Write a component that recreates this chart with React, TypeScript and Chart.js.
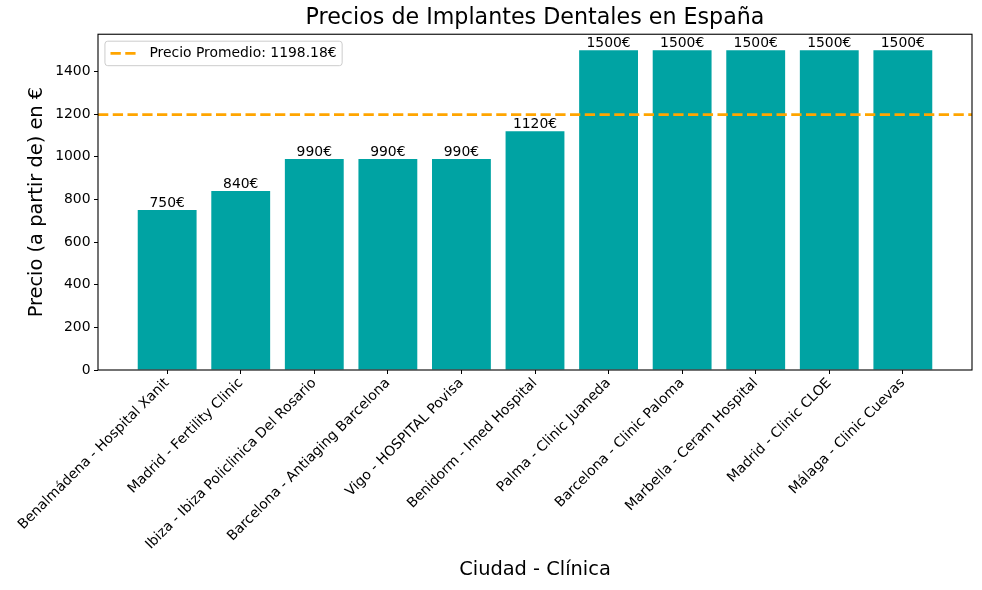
import React, { useEffect, useRef } from "react";
import { Chart, registerables } from "chart.js";

Chart.register(...registerables);

const categories: string[] = [
  "Benalmádena - Hospital Xanit",
  "Madrid - Fertility Clinic",
  "Ibiza - Ibiza Policlinica Del Rosario",
  "Barcelona - Antiaging Barcelona",
  "Vigo - HOSPITAL Povisa",
  "Benidorm - Imed Hospital",
  "Palma - Clinic Juaneda",
  "Barcelona - Clinic Paloma",
  "Marbella - Ceram Hospital",
  "Madrid - Clinic CLOE",
  "Málaga - Clinic Cuevas",
];
const prices: number[] = [750, 840, 990, 990, 990, 1120, 1500, 1500, 1500, 1500, 1500];
const yTicks: number[] = [0, 200, 400, 600, 800, 1000, 1200, 1400];

const TITLE = "Precios de Implantes Dentales en España";
const X_TITLE = "Ciudad - Clínica";
const Y_TITLE = "Precio (a partir de) en €";

const BAR_COLOR = "#00a3a3";
const AVG_COLOR = "#ffa500";
const FONT = "DejaVu Sans";
const FS = 13.9;

const average = prices.reduce((a, b) => a + b, 0) / prices.length;
const avgLabel = `Precio Promedio: ${average.toFixed(2)}€`;

const BAR_WIDTH = 0.8;
const xMargin = 0.05 * (prices.length - 1 + BAR_WIDTH);
const xMin = -BAR_WIDTH / 2 - xMargin;
const xMax = prices.length - 1 + BAR_WIDTH / 2 + xMargin;
const yMax = Math.max(...prices) * 1.05;

export default function App() {
  const ref = useRef<HTMLCanvasElement | null>(null);

  useEffect(() => {
    if (!ref.current) return;
    Chart.defaults.font.family = FONT;
    Chart.defaults.color = "#000";

    const overlay = {
      id: "overlay",
      afterDatasetsDraw(chart: any) {
        const ctx = chart.ctx;
        const area = chart.chartArea;
        const ys = chart.scales.y;
        // average line
        const yAvg = ys.getPixelForValue(average);
        ctx.save();
        ctx.strokeStyle = AVG_COLOR;
        ctx.lineWidth = 2.78;
        ctx.setLineDash([10.3, 4.45]);
        ctx.beginPath();
        ctx.moveTo(area.left, yAvg);
        ctx.lineTo(area.right, yAvg);
        ctx.stroke();
        ctx.restore();

        // bar labels
        const meta = chart.getDatasetMeta(0);
        ctx.save();
        ctx.fillStyle = "#000";
        ctx.font = `${FS}px "${FONT}"`;
        ctx.textAlign = "center";
        ctx.textBaseline = "alphabetic";
        meta.data.forEach((el: any, i: number) => {
          ctx.fillText(`${prices[i]}€`, el.x, el.y - 3.2);
        });
        ctx.restore();

        // spines
        ctx.save();
        ctx.strokeStyle = "#000";
        ctx.lineWidth = 1.1;
        ctx.strokeRect(area.left, area.top, area.right - area.left, area.bottom - area.top);
        ctx.restore();

        // legend
        ctx.save();
        ctx.font = `${FS}px "${FONT}"`;
        const tw = ctx.measureText(avgLabel).width;
        const bx = area.left + 0.5 * FS;
        const by = area.top + 0.5 * FS;
        const pad = 0.4 * FS;
        const handle = 2 * FS;
        const hpad = 0.8 * FS;
        const bw = pad + handle + hpad + tw + pad;
        const bh = 24.5;
        const r = 0.2 * FS;
        ctx.beginPath();
        ctx.moveTo(bx + r, by);
        ctx.lineTo(bx + bw - r, by);
        ctx.arcTo(bx + bw, by, bx + bw, by + r, r);
        ctx.lineTo(bx + bw, by + bh - r);
        ctx.arcTo(bx + bw, by + bh, bx + bw - r, by + bh, r);
        ctx.lineTo(bx + r, by + bh);
        ctx.arcTo(bx, by + bh, bx, by + bh - r, r);
        ctx.lineTo(bx, by + r);
        ctx.arcTo(bx, by, bx + r, by, r);
        ctx.closePath();
        ctx.fillStyle = "rgba(255,255,255,0.8)";
        ctx.fill();
        ctx.strokeStyle = "#cccccc";
        ctx.lineWidth = 1;
        ctx.stroke();
        const cy = by + bh / 2;
        ctx.strokeStyle = AVG_COLOR;
        ctx.lineWidth = 2.78;
        ctx.setLineDash([10.3, 4.45]);
        ctx.beginPath();
        ctx.moveTo(bx + pad, cy);
        ctx.lineTo(bx + pad + handle, cy);
        ctx.stroke();
        ctx.setLineDash([]);
        ctx.fillStyle = "#000";
        ctx.textAlign = "left";
        ctx.textBaseline = "middle";
        ctx.fillText(avgLabel, bx + pad + handle + hpad, cy);
        ctx.restore();
      },
    };

    const chart = new Chart(ref.current, {
      type: "bar",
      data: {
        datasets: [
          {
            data: prices.map((v, i) => ({ x: i, y: v })),
            backgroundColor: BAR_COLOR,
            borderWidth: 0,
            barPercentage: BAR_WIDTH,
            categoryPercentage: 1,
          },
        ],
      },
      options: {
        responsive: false,
        animation: false,
        layout: { padding: { left: 0, right: 10, top: 0, bottom: 0 } },
        plugins: {
          legend: { display: false },
          tooltip: { enabled: false },
          title: {
            display: true,
            text: TITLE,
            fullSize: false,
            color: "#000",
            font: { size: 22.2, weight: "normal", family: FONT },
            padding: { top: 5, bottom: 2.6 },
          },
        },
        scales: {
          x: {
            type: "linear",
            min: xMin,
            max: xMax,
            offset: false,
            afterBuildTicks: (scale: any) => {
              scale.ticks = categories.map((_, i) => ({ value: i }));
            },
            afterFit: (scale: any) => {
              scale.height = 220;
            },
            grid: {
              offset: false,
              drawOnChartArea: false,
              drawTicks: true,
              tickLength: 4,
              color: "#000",
              lineWidth: 1,
            },
            border: { display: false },
            ticks: {
              autoSkip: false,
              minRotation: 45,
              maxRotation: 45,
              padding: 1,
              font: { size: FS, family: FONT },
              color: "#000",
              callback: (value: any) => categories[value as number] ?? "",
            },
            title: {
              display: true,
              text: X_TITLE,
              color: "#000",
              font: { size: 19.4, family: FONT },
              padding: { top: 0, bottom: 8.4 },
            },
          },
          y: {
            type: "linear",
            min: 0,
            max: yMax,
            afterBuildTicks: (scale: any) => {
              scale.ticks = yTicks.map((v) => ({ value: v }));
            },
            afterFit: (scale: any) => {
              scale.width = 98;
            },
            grid: {
              offset: false,
              drawOnChartArea: false,
              drawTicks: true,
              tickLength: 4,
              color: "#000",
              lineWidth: 1,
            },
            border: { display: false },
            ticks: {
              padding: 3.5,
              font: { size: FS, family: FONT },
              color: "#000",
              callback: (value: any) => String(value),
            },
            title: {
              display: true,
              text: Y_TITLE,
              color: "#000",
              font: { size: 19.4, family: FONT },
              padding: { top: 25.4, bottom: 0 },
            },
          },
        },
      },
      plugins: [overlay],
    } as any);

    return () => chart.destroy();
  }, []);

  return (
    <div style={{ position: "absolute", left: 0, top: 0, width: 982, height: 590, background: "#fff" }}>
      <canvas ref={ref} width={982} height={590} style={{ display: "block" }} />
    </div>
  );
}
